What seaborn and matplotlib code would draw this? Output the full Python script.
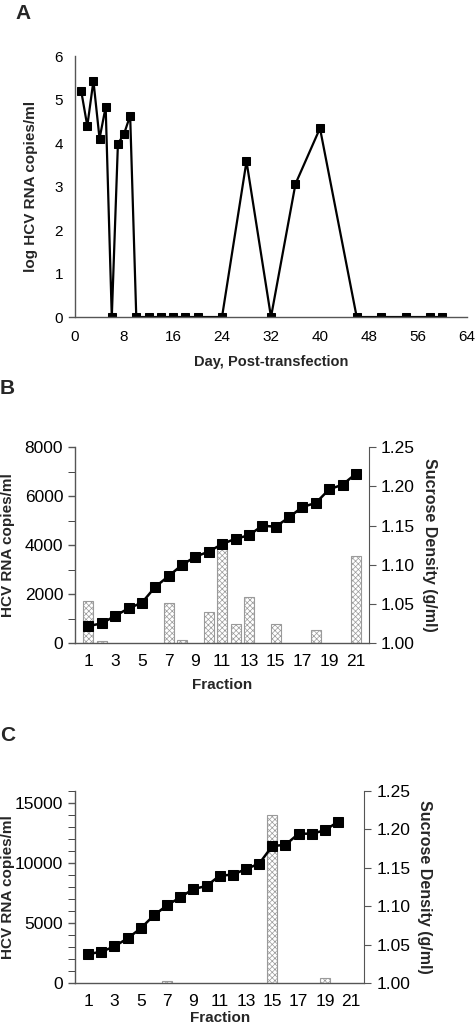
import numpy as np
import pandas as pd
import matplotlib
matplotlib.use('Agg')
import matplotlib.pyplot as plt
from matplotlib.ticker import MultipleLocator, FixedLocator
import seaborn as sns

sns.set_style('white')
plt.rcParams['font.family'] = ['Liberation Sans', 'DejaVu Sans']
plt.rcParams['hatch.linewidth'] = 0.5

# panel A: log HCV RNA over days post-transfection
days = [1, 2, 3, 4, 5, 6, 7, 8, 9, 10, 12, 14, 16, 18, 20, 24, 28, 32, 36, 40, 46, 50, 54, 58, 60]
log_rna = [5.2, 4.39, 5.43, 4.1, 4.83, 0, 3.98, 4.21, 4.63, 0, 0, 0, 0, 0, 0, 0, 3.58, 0, 3.06, 4.34, 0, 0, 0, 0, 0]

# panel B: sucrose gradient fractions
fractions_b = list(range(1, 22))
rna_b = [1714, 82, 0, 0, 0, 0, 1633, 122, 0, 1265, 3946, 775, 1891, 0, 803, 0, 0, 544, 0, 0, 3551]
density_b = [1.022, 1.0255, 1.035, 1.0446, 1.0518, 1.072, 1.0858, 1.100, 1.1105, 1.117, 1.1266,
             1.1334, 1.1377, 1.150, 1.1487, 1.1607, 1.1739, 1.179, 1.1964, 1.2023, 1.2163]

# panel C
fractions_c = list(range(1, 21))
rna_c = [0, 0, 0, 0, 0, 0, 200, 0, 0, 0, 0, 0, 0, 0, 14000, 0, 0, 0, 400, 0]
density_c = [1.038, 1.041, 1.048, 1.0585, 1.0715, 1.0884, 1.1014, 1.1118, 1.1226, 1.1265, 1.140,
             1.1412, 1.1486, 1.1555, 1.1785, 1.180, 1.1945, 1.1945, 1.1989, 1.210]

SPINE = '#555555'
fig = plt.figure(figsize=(4.75, 10.28), dpi=100)


def style_axis(ax):
    for s in ['top', 'right']:
        ax.spines[s].set_visible(False)
    for s in ['left', 'bottom']:
        ax.spines[s].set_color(SPINE)
        ax.spines[s].set_linewidth(1)
    ax.tick_params(colors=SPINE, labelcolor='black', width=1)


# ---- A ----
axA = fig.add_axes([0.158, 0.6916, 0.825, 0.2539])
sns.lineplot(x=days, y=log_rna, ax=axA, color='black', linewidth=1.6, marker='s',
             markersize=6, markeredgecolor='black', sort=False)
axA.set_xlim(0, 64)
axA.set_ylim(0, 6)
axA.xaxis.set_major_locator(MultipleLocator(8))
axA.xaxis.set_minor_locator(MultipleLocator(1))
axA.yaxis.set_major_locator(MultipleLocator(1))
style_axis(axA)
axA.tick_params(axis='x', which='both', direction='inout', length=6, labelsize=11, pad=6)
axA.tick_params(axis='x', which='minor', length=4)
axA.tick_params(axis='y', direction='out', length=5, labelsize=11)
axA.set_xlabel('Day, Post-transfection', fontsize=10.5, fontweight='bold', labelpad=8)
axA.set_ylabel('log HCV RNA copies/ml', fontsize=11, fontweight='bold')
axA.yaxis.set_label_coords(-0.094, 0.5)
for sp in axA.spines.values():
    sp.set_clip_on(False)
axA.spines['bottom'].set_bounds(-1, 64)
fig.text(0.032, 0.9965, 'A', fontsize=15, fontweight='bold', va='top')


def fraction_panel(rect, fr, rna, dens, ymax, major, letter_y, letter, xpad):
    ax = fig.add_axes(rect)
    df = pd.DataFrame({'fraction': fr, 'rna': rna})
    sns.barplot(data=df, x='fraction', y='rna', ax=ax, native_scale=True, width=0.75,
                color='white', edgecolor='#9a9a9a', linewidth=0.8, saturation=1)
    for p in ax.patches:
        p.set_hatch('xxxxxx')
        if p.get_height() <= 0:
            p.set_visible(False)
    ax.set_xlim(0, 22)
    ax.set_ylim(0, ymax)
    ax.xaxis.set_major_locator(FixedLocator(list(range(1, 22, 2))))
    ax.xaxis.set_minor_locator(FixedLocator(list(range(2, 22, 2))))
    ax.yaxis.set_major_locator(MultipleLocator(major))
    ax.yaxis.set_minor_locator(MultipleLocator(1000))
    style_axis(ax)
    ax.tick_params(axis='x', which='both', direction='out', length=4, labelsize=12.5, pad=4)
    ax.tick_params(axis='y', which='both', direction='out', length=5, labelsize=12.5)
    ax.set_xlabel('Fraction', fontsize=11, fontweight='bold', labelpad=xpad)
    ax.set_ylabel('HCV RNA copies/ml', fontsize=11, fontweight='bold')
    ax.yaxis.set_label_coords(-60 / (rect[2] * 475), 0.5)

    ax2 = ax.twinx()
    sns.lineplot(x=fr, y=dens, ax=ax2, color='black', linewidth=1.8, marker='s',
                 markersize=7, markeredgecolor='black', sort=False)
    ax2.set_ylim(1.0, 1.25)
    ax2.yaxis.set_major_locator(MultipleLocator(0.05))
    ax2.yaxis.set_major_formatter(lambda v, pos: f'{v:.2f}')
    for s in ['top', 'left', 'bottom']:
        ax2.spines[s].set_visible(False)
    ax2.spines['right'].set_color(SPINE)
    ax2.tick_params(axis='y', direction='out', length=5, labelsize=12.5, colors=SPINE, labelcolor='black')
    ax2.set_ylabel('Sucrose Density (g/ml)', fontsize=11.5, fontweight='bold', rotation=270, labelpad=16)
    fig.text(0.0, letter_y, letter, fontsize=15, fontweight='bold', va='top')
    return ax, ax2


fraction_panel([0.158, 0.3742, 0.6195, 0.1907], fractions_b, rna_b, density_b,
               8000, 2000, 0.631, 'B', 6)
fraction_panel([0.158, 0.04348, 0.609, 0.18706], fractions_c, rna_c, density_c,
               16000, 5000, 0.2935, 'C', 1)

fig.savefig('out.png', dpi=100)
